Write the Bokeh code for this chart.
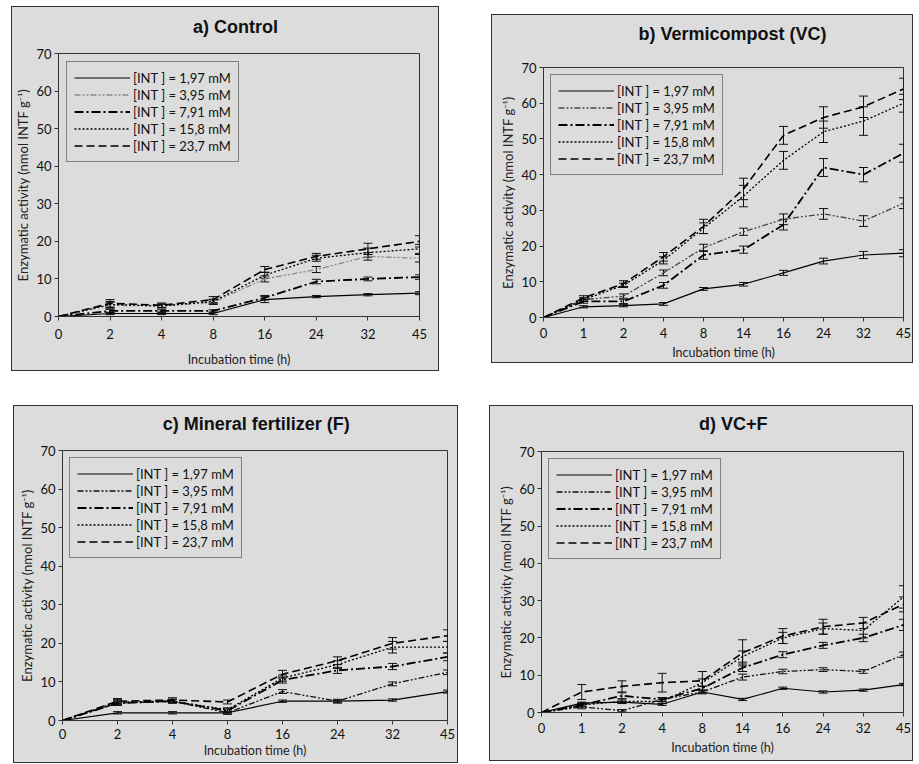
from bokeh.plotting import figure
from bokeh.models import (Range1d, FixedTicker, ColumnDataSource, Whisker, TeeHead,
                          Legend, LegendItem, Spacer)
from bokeh.core.properties import value
from bokeh.layouts import row, column
from bokeh.embed import file_html
from bokeh.resources import INLINE

# ---------------- data ----------------
conc_labels = ["[INT ] = 1,97 mM", "[INT ] = 3,95 mM", "[INT ] = 7,91 mM",
               "[INT ] = 15,8 mM", "[INT ] = 23,7 mM"]

a_times = ["0", "2", "4", "8", "16", "24", "32", "45"]
a_197 = [0, 0.8, 0.8, 0.8, 4.5, 5.3, 5.8, 6.2]
a_395 = [0, 3.0, 2.8, 3.8, 10.0, 12.5, 16.0, 15.5]
a_791 = [0, 1.5, 1.5, 1.5, 5.0, 9.3, 10.0, 10.5]
a_158 = [0, 3.2, 2.8, 4.0, 11.0, 15.5, 17.0, 18.0]
a_237 = [0, 3.5, 3.0, 4.5, 12.5, 16.0, 18.0, 20.0]
a_err197 = [0, 0.3, 0.3, 0.3, 0.8, 0.3, 0.3, 0.4]
a_err395 = [0, 0.8, 0.5, 0.6, 0.8, 0.8, 1.0, 1.0]
a_err791 = [0, 0.4, 0.3, 0.3, 0.6, 0.6, 0.5, 0.6]
a_err158 = [0, 0.8, 0.5, 0.6, 0.8, 0.8, 1.2, 1.2]
a_err237 = [0, 1.0, 0.6, 0.8, 0.8, 0.8, 1.5, 1.5]

b_times = ["0", "1", "2", "4", "8", "14", "16", "24", "32", "45"]
b_197 = [0, 3.0, 3.3, 3.8, 8.0, 9.3, 12.5, 15.8, 17.5, 18.0]
b_395 = [0, 5.0, 6.0, 12.5, 19.5, 24.0, 27.5, 29.0, 27.0, 32.0]
b_791 = [0, 4.5, 4.5, 9.0, 17.5, 19.0, 26.0, 42.0, 40.0, 46.0]
b_158 = [0, 5.0, 9.0, 16.0, 25.0, 34.0, 44.0, 52.0, 55.0, 60.0]
b_237 = [0, 5.5, 9.5, 17.0, 25.5, 36.0, 51.0, 56.0, 59.0, 64.0]
b_err197 = [0, 0.3, 0.3, 0.4, 0.4, 0.5, 0.7, 0.8, 1.0, 1.0]
b_err395 = [0, 0.5, 0.6, 0.8, 1.0, 1.0, 1.5, 1.5, 1.5, 1.5]
b_err791 = [0, 0.5, 0.6, 0.8, 1.2, 1.0, 1.5, 2.5, 2.0, 2.5]
b_err158 = [0, 0.5, 0.6, 1.0, 1.5, 3.0, 2.5, 3.0, 4.0, 2.5]
b_err237 = [0, 0.6, 0.8, 1.2, 2.0, 3.0, 2.5, 3.0, 3.0, 3.0]

c_times = ["0", "2", "4", "8", "16", "24", "32", "45"]
c_197 = [0, 2.0, 2.0, 2.0, 5.0, 5.0, 5.3, 7.5]
c_395 = [0, 4.5, 5.0, 2.0, 7.5, 5.0, 9.5, 12.5]
c_791 = [0, 4.5, 5.0, 2.5, 10.5, 13.0, 14.0, 16.5]
c_158 = [0, 4.8, 5.0, 2.8, 11.0, 14.5, 19.0, 19.0]
c_237 = [0, 5.0, 5.3, 4.8, 12.0, 15.5, 20.0, 22.0]
c_err197 = [0, 0.3, 0.3, 0.3, 0.3, 0.3, 0.3, 0.4]
c_err395 = [0, 0.5, 0.4, 0.4, 0.5, 0.5, 0.5, 0.6]
c_err791 = [0, 0.6, 0.5, 0.5, 0.8, 0.8, 0.8, 1.0]
c_err158 = [0, 0.6, 0.5, 0.5, 0.8, 1.0, 1.5, 1.5]
c_err237 = [0, 0.7, 0.6, 0.5, 1.0, 1.0, 1.5, 1.5]

d_times = ["0", "1", "2", "4", "8", "14", "16", "24", "32", "45"]
d_197 = [0, 2.5, 2.8, 2.2, 5.5, 3.5, 6.5, 5.5, 6.0, 7.5]
d_395 = [0, 1.5, 0.5, 3.5, 5.5, 9.5, 11.0, 11.5, 11.0, 15.5]
d_791 = [0, 2.0, 4.5, 3.5, 6.5, 12.0, 15.5, 18.0, 20.0, 23.5]
d_158 = [0, 2.0, 3.0, 3.0, 8.0, 15.0, 20.0, 22.5, 22.0, 31.0]
d_237 = [0, 5.5, 7.0, 8.0, 8.5, 16.0, 20.5, 23.0, 24.0, 29.0]
d_err197 = [0, 0.3, 0.3, 0.3, 0.3, 0.3, 0.3, 0.3, 0.3, 0.3]
d_err395 = [0, 0.5, 0.3, 0.5, 0.5, 0.8, 0.6, 0.5, 0.5, 0.7]
d_err791 = [0, 0.5, 0.8, 0.5, 0.6, 1.0, 0.8, 0.8, 1.0, 1.5]
d_err158 = [0, 0.5, 0.6, 0.6, 1.0, 1.5, 1.5, 1.5, 2.0, 3.0]
d_err237 = [0, 2.0, 1.5, 2.5, 2.5, 3.5, 2.0, 2.0, 1.5, 2.0]

y_ticks = [0, 10, 20, 30, 40, 50, 60, 70]

# ---------------- styling ----------------
BG = "#dcdcdc"
TICK_FONT = "Lato"
TITLE_FONT = "Liberation Sans"


def line_styles(variant):
    grey = "#8a8a8a" if variant == "a" else ("#444444" if variant == "b" else "#111111")
    return [
        dict(line_color="black", line_width=1.2, line_dash="solid"),
        dict(line_color=grey, line_width=1.3, line_dash="6 2 2 2 2 2"),
        dict(line_color="black", line_width=1.8, line_dash="9 3 2 3"),
        dict(line_color="black", line_width=1.3, line_dash="2 2"),
        dict(line_color="black", line_width=1.6, line_dash="8 4"),
    ]


def title_strip(title, w, t, fx, cy):
    """A thin figure (no axes) that carries the panel title."""
    tp = figure(width=w, height=t, output_backend="svg", toolbar_location=None,
                x_range=Range1d(0, 1), y_range=Range1d(0, 1),
                min_border=0, background_fill_color=BG, border_fill_color=BG)
    tp.axis.visible = False
    tp.grid.visible = False
    tp.outline_line_color = None
    tp.text(x=[fx], y=[1 - cy / t], text=[title], text_align="center",
            text_baseline="middle", text_font=value(TITLE_FONT),
            text_font_size="18px", text_font_style="bold", text_color="#111111")
    return tp


def make_panel(title, times, series, errs, variant, w, h, t, fx, cy, mb, leg_margin,
               xl_standoff, xt_standoff):
    n = len(times)
    p = figure(width=w, height=h - t, output_backend="svg", toolbar_location=None,
               x_range=Range1d(0, n - 1), y_range=Range1d(0, 70),
               min_border_left=mb[0], min_border_right=mb[1],
               min_border_top=mb[2], min_border_bottom=mb[3],
               background_fill_color=BG, border_fill_color=BG)
    p.outline_line_color = "#333333"
    p.outline_line_width = 1
    p.grid.visible = False

    xs = list(range(n))
    p.xaxis.ticker = FixedTicker(ticks=xs)
    p.xaxis.major_label_overrides = {i: tl for i, tl in enumerate(times)}
    p.yaxis.ticker = FixedTicker(ticks=y_ticks)
    for ax in (p.xaxis, p.yaxis):
        ax.major_label_text_font = TICK_FONT
        ax.major_label_text_font_size = "13px"
        ax.major_label_text_color = "#111111"
        ax.axis_label_text_font = TICK_FONT
        ax.axis_label_text_font_style = "normal"
        ax.axis_label_text_color = "#222222"
        ax.axis_line_color = "#333333"
        ax.major_tick_line_color = "#333333"
        ax.major_tick_out = 4
        ax.major_tick_in = 0
        ax.minor_tick_line_color = None
    p.xaxis.axis_label_text_font_size = "12.5px"
    p.yaxis.axis_label_text_font_size = "13px"
    p.xaxis.axis_label = "Incubation time (h)"
    p.yaxis.axis_label = "Enzymatic activity (nmol INTF g\u207b\u00b9)"
    p.xaxis.axis_label_standoff = xl_standoff
    p.xaxis.major_label_standoff = xt_standoff
    p.yaxis.axis_label_standoff = 2
    p.yaxis.major_label_standoff = 3

    styles = line_styles(variant)
    items = []
    for vals, err, st, lab in zip(series, errs, styles, conc_labels):
        r = p.line(xs, vals, **st)
        items.append(LegendItem(label=lab, renderers=[r]))
        wx = [x for x, e in zip(xs, err) if e > 0]
        up = [v + e for v, e in zip(vals, err) if e > 0]
        lo = [v - e for v, e in zip(vals, err) if e > 0]
        src = ColumnDataSource(dict(x=wx, upper=up, lower=lo))
        wh = Whisker(source=src, base="x", upper="upper", lower="lower",
                     line_color="#111111", line_width=1,
                     upper_head=TeeHead(size=9, line_color="#111111", line_width=1),
                     lower_head=TeeHead(size=9, line_color="#111111", line_width=1))
        p.add_layout(wh)

    leg = Legend(items=items, location="top_left")
    leg.margin = leg_margin
    leg.padding = 7
    leg.spacing = 0
    leg.label_height = 17
    leg.glyph_height = 17
    leg.glyph_width = 56
    leg.label_standoff = 3
    leg.label_text_font = TICK_FONT
    leg.label_text_font_size = "13px"
    leg.label_text_color = "#111111"
    leg.background_fill_alpha = 0
    leg.border_line_color = "#222222"
    leg.border_line_width = 1
    p.add_layout(leg, "center")

    tp = title_strip(title, w, t, fx, cy)
    return column(tp, p, spacing=0,
                  styles={"outline": "1px solid #333", "outline-offset": "0px",
                          "background-color": BG})


pa = make_panel("a) Control", a_times, [a_197, a_395, a_791, a_158, a_237],
                [a_err197, a_err395, a_err791, a_err158, a_err237], "a",
                426, 363, 36, 0.49, 19, (46, 19, 10, 54), 8, 10, 8)
pb = make_panel("b) Vermicompost (VC)", b_times, [b_197, b_395, b_791, b_158, b_237],
                [b_err197, b_err395, b_err791, b_err158, b_err237], "b",
                420, 347, 40, 0.525, 18, (51, 9, 12, 45), 7, 4, 6)
pc = make_panel("c) Mineral fertilizer (F)", c_times, [c_197, c_395, c_791, c_158, c_237],
                [c_err197, c_err395, c_err791, c_err158, c_err237], "c",
                443, 356, 34, 0.503, 17, (48, 10, 10, 42), 7, 1, 4)
pd = make_panel("d) VC+F", d_times, [d_197, d_395, d_791, d_158, d_237],
                [d_err197, d_err395, d_err791, d_err158, d_err237], "d",
                422, 354, 34, 0.53, 17, (51, 9, 11, 48), 7, 4, 6)

layout = column(
    Spacer(height=7),
    row(Spacer(width=12), pa, Spacer(width=54), column(Spacer(height=8), pb)),
    Spacer(height=36),
    row(Spacer(width=14), pc, Spacer(width=33), pd),
)

open("out.html", "w").write(file_html(layout, INLINE))
